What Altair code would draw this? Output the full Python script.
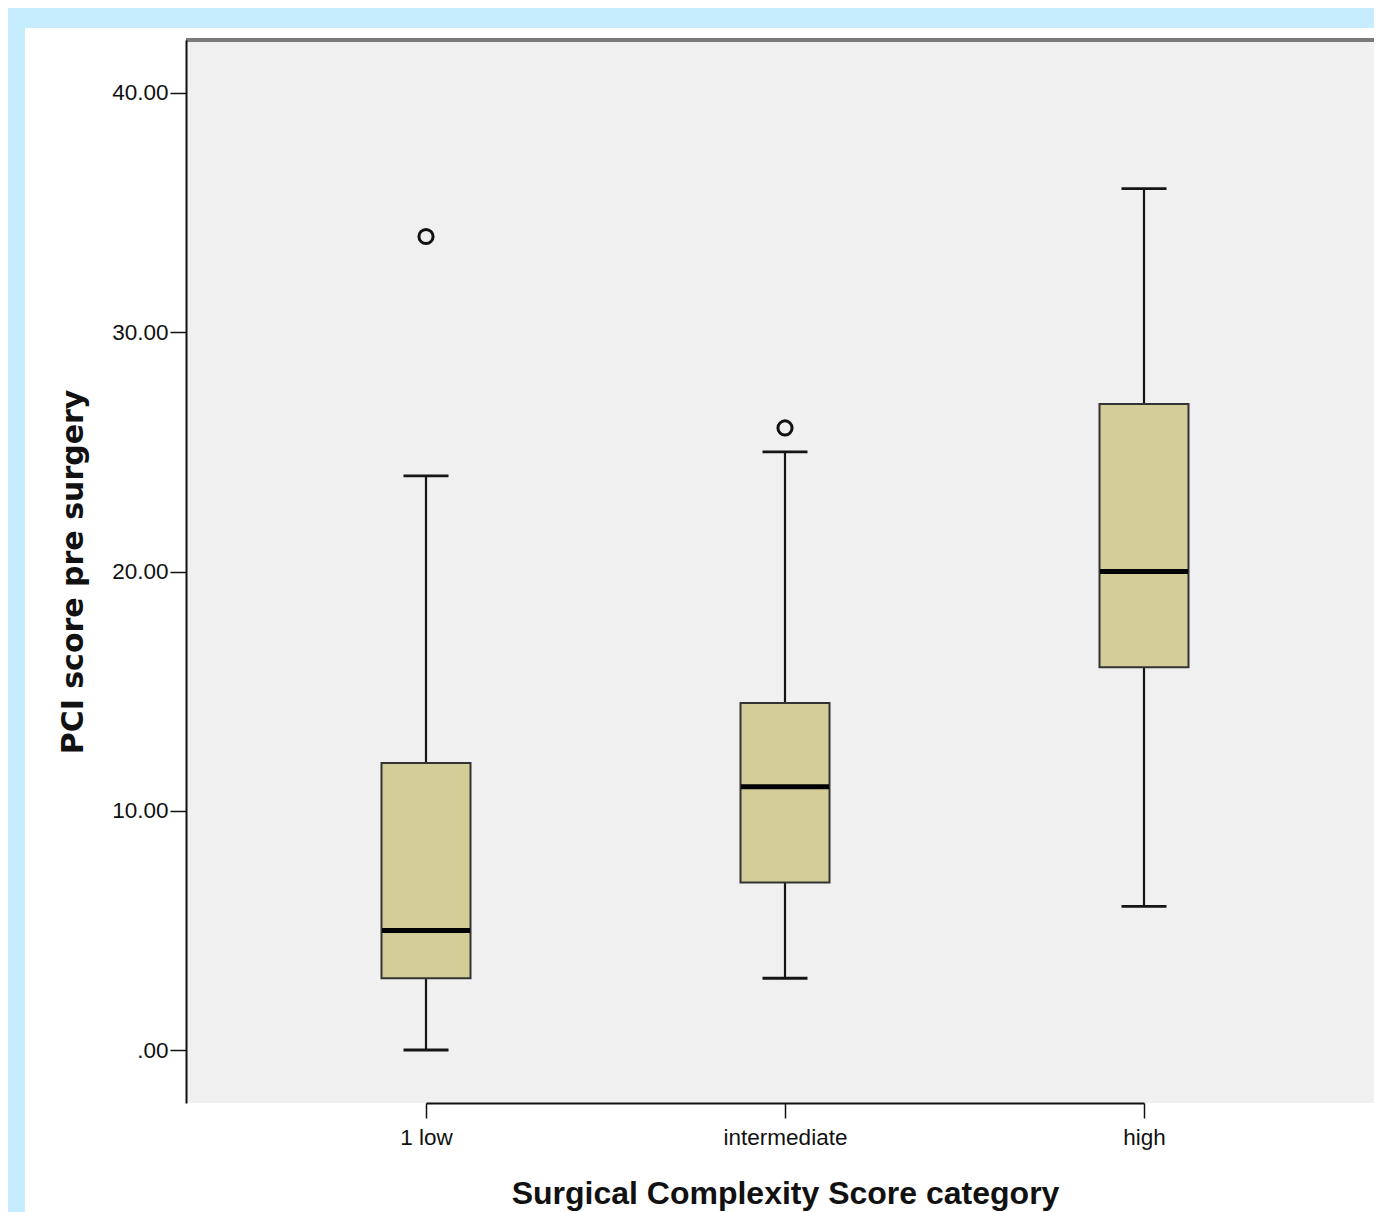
import altair as alt
import pandas as pd

categories = ["1 low", "intermediate", "high"]
whisker_low = [0, 3, 6]
q1 = [3, 7, 16]
median = [5, 11, 20]
q3 = [12, 14.5, 27]
whisker_high = [24, 25, 36]
outlier_cat = ["1 low", "intermediate"]
outlier_val = [34, 26]
y_ticks = [0, 10, 20, 30, 40]

W, H = 1188, 1063

df = pd.DataFrame({"cat": categories, "lo": whisker_low, "q1": q1, "med": median,
                   "q3": q3, "hi": whisker_high})
out = pd.DataFrame({"cat": outlier_cat, "v": outlier_val})
one = pd.DataFrame({"a": [0]})

xscale = alt.Scale(type="point", range=[240, 958], padding=0, domain=categories)
yscale = alt.Scale(domain=[-2.215, 42.215], nice=False, zero=False)

xaxis = alt.Axis(title="Surgical Complexity Score category", labelFont="Liberation Sans",
                 labelFontSize=22.5, labelColor="#111", labelAngle=0, labelPadding=8,
                 tickSize=15, tickColor="#111", tickWidth=1.5, domainColor="#111",
                 domainWidth=2, grid=False, titleFont="Liberation Sans", titleFontSize=32,
                 titleFontWeight="bold", titleColor="#111", titleBaseline="alphabetic",
                 titleX=599, titleY=100, titleAlign="center", zindex=1)
yaxis = alt.Axis(title="PCI score pre surgery", values=y_ticks,
                 labelExpr="datum.value == 0 ? '.00' : format(datum.value, '.2f')",
                 labelFont="Liberation Sans", labelFontSize=22.5, labelColor="#111",
                 labelPadding=2, tickSize=16, tickColor="#111", tickWidth=1.5,
                 domainColor="#111", domainWidth=2, grid=False,
                 titleFont="DejaVu Sans", titleFontSize=30, titleFontWeight="bold",
                 titleColor="#111", titleAngle=270, titleBaseline="alphabetic",
                 titleX=-104, titleY=H / 2, titleAlign="center", zindex=1)

panel = alt.Chart(one).mark_rect(color="white").encode(
    x=alt.value(-161), x2=alt.value(W + 300), y=alt.value(-12), y2=alt.value(H + 300))
plotbg = alt.Chart(one).mark_rect(color="#F0F0F0").encode(
    x=alt.value(0), x2=alt.value(W + 10), y=alt.value(0), y2=alt.value(H))
topline = alt.Chart(one).mark_rule(color="#7a7a7a", strokeWidth=4).encode(
    x=alt.value(0), x2=alt.value(W + 10), y=alt.value(0))

base = alt.Chart(df)
whisk = base.mark_rule(color="#151515", strokeWidth=2.2).encode(
    x=alt.X("cat:N", scale=xscale, axis=xaxis),
    y=alt.Y("lo:Q", scale=yscale, axis=yaxis), y2="hi:Q")
cap_lo = base.mark_tick(color="#151515", size=45, thickness=2.8, opacity=1).encode(
    x=alt.X("cat:N", scale=xscale), y=alt.Y("lo:Q", scale=yscale))
cap_hi = base.mark_tick(color="#151515", size=45, thickness=2.8, opacity=1).encode(
    x=alt.X("cat:N", scale=xscale), y=alt.Y("hi:Q", scale=yscale))
box = base.mark_bar(size=89, fill="#D3CE97", stroke="#333333", strokeWidth=2,
                    opacity=1).encode(
    x=alt.X("cat:N", scale=xscale), y=alt.Y("q1:Q", scale=yscale), y2="q3:Q")
med = base.mark_tick(color="black", size=88, thickness=5, opacity=1).encode(
    x=alt.X("cat:N", scale=xscale), y=alt.Y("med:Q", scale=yscale))
pts = alt.Chart(out).mark_point(shape="circle", filled=False, size=200, color="#111",
                               strokeWidth=3, opacity=1).encode(
    x=alt.X("cat:N", scale=xscale), y=alt.Y("v:Q", scale=yscale))

chart = alt.layer(panel, plotbg, topline, whisk, cap_lo, cap_hi, box, med, pts).properties(
    width=W, height=H,
    autosize=alt.AutoSizeParams(type="none"),
    padding={"left": 178, "top": 32, "right": 0, "bottom": 109},
    background="#C5EDFD",
).configure_view(stroke=None)

chart.save("out.html", embed_options={"renderer": "svg", "actions": False})
